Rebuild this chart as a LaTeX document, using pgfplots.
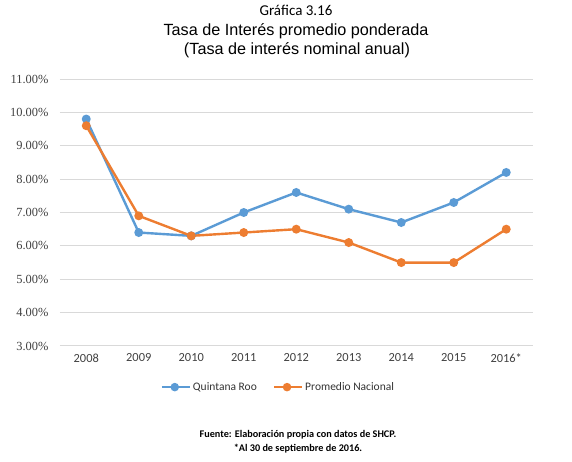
\documentclass[border=0pt]{standalone}
\usepackage{pgfplots}
\pgfplotsset{compat=1.18}
\usepackage{fontspec}
\setmainfont{Liberation Serif}
\newfontfamily\arial{Liberation Sans}
\newfontfamily\calibri{Carlito}
\definecolor{qroo}{HTML}{5B9BD5}
\definecolor{nac}{HTML}{ED7D31}
\definecolor{gridc}{HTML}{D9D9D9}
\begin{document}
\begin{tikzpicture}[x=1pt,y=1pt]
\path[use as bounding box] (-60,-116) rectangle (512,346);
\begin{axis}[
  at={(0,0)}, anchor=south west,
  scale only axis, width=472.5pt, height=267pt,
  xmin=-0.5, xmax=8.5, ymin=3, ymax=11,
  axis line style={draw=none},
  xtick={0,1,2,3,4,5,6,7,8},
  xticklabels={2008,2009,2010,2011,2012,2013,2014,2015,2016*},
  ytick={3,4,5,6,7,8,9,10,11},
  yticklabels={3.00\%,4.00\%,5.00\%,6.00\%,7.00\%,8.00\%,9.00\%,10.00\%,11.00\%},
  major tick length=0pt,
  ymajorgrids, grid style={gridc, line width=1pt},
  yticklabel style={font=\fontsize{12.4}{14}\selectfont, text=black!75, xshift=-8pt},
  xticklabel style={font=\calibri\fontsize{12.4}{14}\selectfont, text=black!75, yshift=-4pt},
  legend columns=2,
  legend style={draw=none, fill=none, at={(0.462,-0.154)}, anchor=center,
    font=\calibri\fontsize{11.5}{13}\selectfont, text=black!80,
    /tikz/every even column/.append style={column sep=14pt}},
  legend image code/.code={
    \draw[#1, mark=none, line width=2.4pt] (0pt,0pt) -- (28pt,0pt);
    \fill[#1] (13pt,0pt) circle (3pt);
  },
  clip=false,
]
\addplot[qroo, line width=2.4pt, mark=*, mark size=3.2pt, mark options={fill=qroo, draw=qroo}]
  coordinates {(0,9.8) (1,6.4) (2,6.3) (3,7.0) (4,7.6) (5,7.1) (6,6.7) (7,7.3) (8,8.2)};
\addlegendentry{Quintana Roo}
\addplot[nac, line width=2.4pt, mark=*, mark size=3.2pt, mark options={fill=nac, draw=nac}]
  coordinates {(0,9.6) (1,6.9) (2,6.3) (3,6.4) (4,6.5) (5,6.1) (6,5.5) (7,5.5) (8,6.5)};
\addlegendentry{Promedio Nacional}
\end{axis}
\node[font=\calibri\fontsize{15}{17}\selectfont] at (236,336) {Gráfica 3.16};
\node[font=\arial\fontsize{16.2}{18}\selectfont] at (236,315) {Tasa de Interés promedio ponderada};
\node[font=\arial\fontsize{16.2}{18}\selectfont] at (237,296) {(Tasa de interés nominal anual)};
\node[font=\calibri\bfseries\fontsize{10.2}{12}\selectfont] at (238,-89) {Fuente: Elaboración propia con datos de SHCP.};
\node[font=\calibri\bfseries\fontsize{10.2}{12}\selectfont] at (238,-103) {*Al 30 de septiembre de 2016.};
\end{tikzpicture}
\end{document}
